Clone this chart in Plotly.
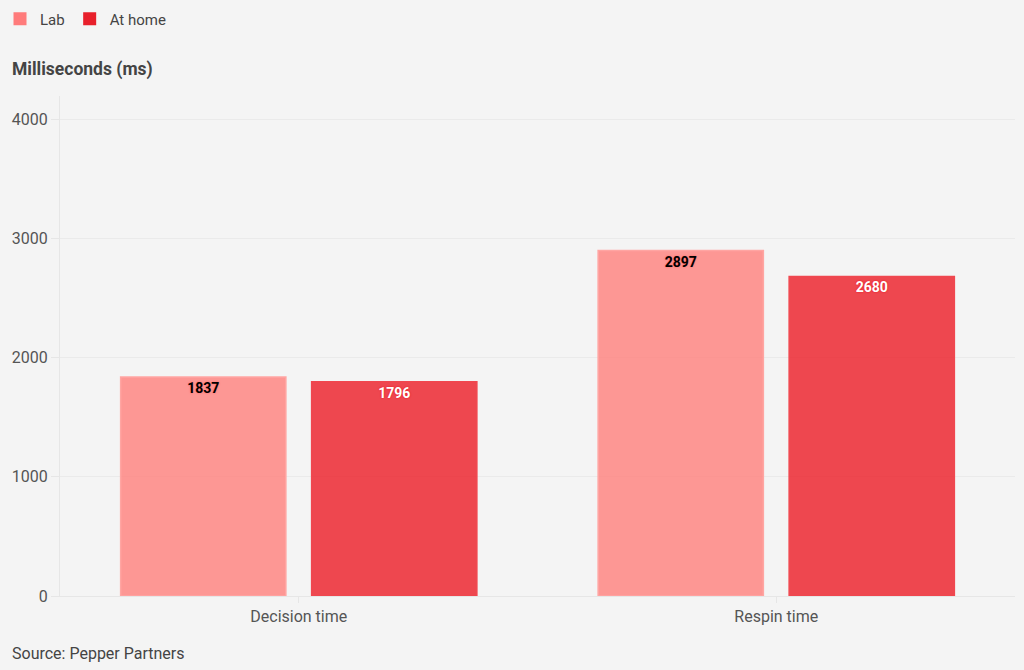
import plotly.graph_objects as go

categories = ["Decision time", "Respin time"]
lab = [1837, 2897]
home = [1796, 2680]
series_names = ["Lab", "At home"]
legend_colors = ["#FF7B7B", "#E8202B"]

font = "Roboto"
W, H = 1024, 670
ML, MR, MT, MB = 60, 9, 96, 74
PW, PH = W - ML - MR, H - MT - MB

fig = go.Figure()
fig.add_trace(go.Bar(
    x=categories, y=lab, name=series_names[0], showlegend=False, legendgroup="a",
    marker=dict(color="rgba(255,128,124,0.8)", line=dict(color="#FFA5A2", width=1.5)),
    text=lab, textposition="inside", insidetextanchor="end",
    textfont=dict(family=font, size=14, color="#000000", weight="bold",
                  shadow="0px 0px 2px #FF5A5A"),
))
fig.add_trace(go.Bar(
    x=categories, y=home, name=series_names[1], showlegend=False, legendgroup="b",
    marker=dict(color="rgba(236,28,38,0.8)", line=dict(color="#F0474F", width=1.5)),
    text=home, textposition="inside", insidetextanchor="end",
    textfont=dict(family=font, size=14, color="#ffffff", weight="bold",
                  shadow="0px 0px 2px #E8101B"),
))
for name, col, grp in zip(series_names, legend_colors, ["a", "b"]):
    fig.add_trace(go.Scatter(
        x=[None], y=[None], mode="markers", name=name, legendgroup=grp,
        marker=dict(symbol="square", size=13, color=col),
    ))

fig.update_layout(
    width=W, height=H,
    paper_bgcolor="#F4F4F4", plot_bgcolor="#F4F4F4",
    margin=dict(l=ML, r=MR, t=MT, b=MB),
    barmode="group", bargap=0.2, bargroupgap=0.135,
    font=dict(family=font, size=16, color="#555555"),
    showlegend=True,
    legend=dict(orientation="h", x=-4/W, y=1 - 19/H, xref="container", yref="container",
                xanchor="left", yanchor="middle", font=dict(size=15, color="#444444"),
                itemwidth=30, traceorder="normal", bgcolor="rgba(0,0,0,0)",
                tracegroupgap=0),
    xaxis=dict(showline=True, linecolor="#E6E6E6", ticks="outside", tickcolor="#E6E6E6",
               ticklen=6, tickfont=dict(size=16, color="#555555")),
    yaxis=dict(range=[0, 4193], tickvals=[0, 1000, 2000, 3000, 4000], gridcolor="#EAEAEA",
               showline=True, linecolor="#E6E6E6", zeroline=False,
               ticks="outside", tickcolor="#E6E6E6", ticklen=8,
               tickfont=dict(size=16, color="#555555")),
    annotations=[
        dict(text="<b>Milliseconds (ms)</b>", xref="paper", yref="paper",
             x=(10 - ML)/PW, y=(H - MB - 70)/PH, xanchor="left", yanchor="middle",
             showarrow=False, font=dict(size=17.5, color="#444444")),
        dict(text="Source: Pepper Partners", xref="paper", yref="paper",
             x=(10 - ML)/PW, y=(H - MB - 653)/PH, xanchor="left", yanchor="middle",
             showarrow=False, font=dict(size=16, color="#444444")),
    ],
)
fig.write_html("out.html", config={"displayModeBar": False},
               post_script="document.body.style.margin='0';document.body.style.background='#F4F4F4';")
